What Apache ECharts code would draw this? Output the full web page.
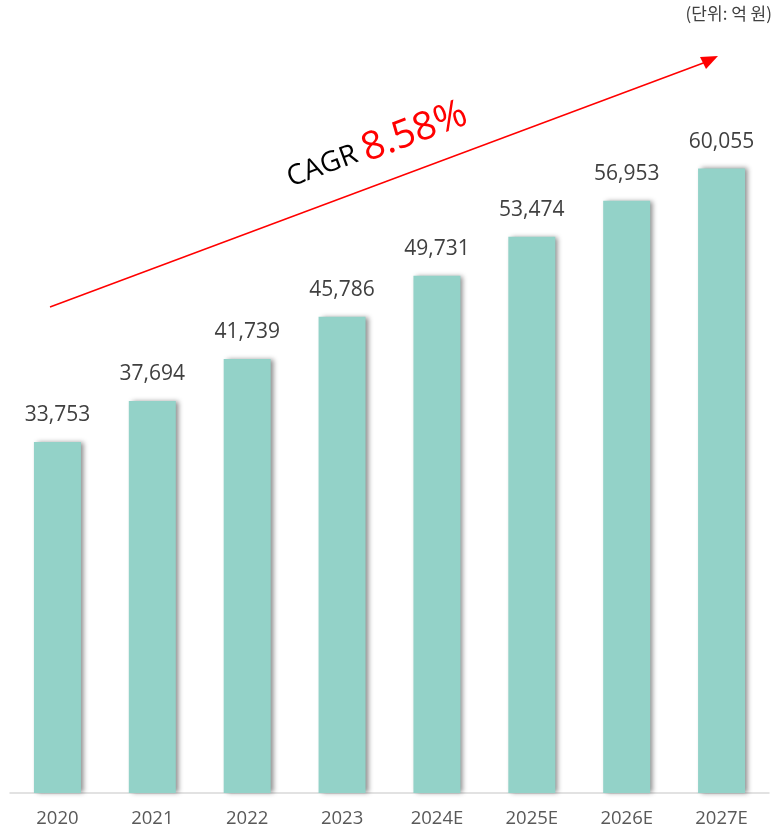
<!DOCTYPE html>
<html>
<head>
<meta charset="utf-8">
<script src="https://cdn.jsdelivr.net/npm/echarts@6/dist/echarts.min.js"></script>
<style>
  html, body { margin: 0; padding: 0; background: #fff; }
  #chart { width: 775px; height: 833px; }
</style>
</head>
<body>
<div id="chart"></div>
<script>
const years = ["2020", "2021", "2022", "2023", "2024E", "2025E", "2026E", "2027E"];
const marketSize = [33753, 37694, 41739, 45786, 49731, 53474, 56953, 60055];
const unitText = "(단위: 억 원)";
const cagrText = "8.58%";

const fontFamily = "'Open Sans', 'Noto Sans CJK KR', sans-serif";
const chart = echarts.init(document.getElementById("chart"));

const option = {
  backgroundColor: "#ffffff",
  animation: false,
  grid: { left: 10, right: 6, top: 65, bottom: 40, containLabel: false },
  xAxis: {
    type: "category",
    data: years,
    axisLine: { lineStyle: { color: "#d9d9d9", width: 1.5 } },
    axisTick: { show: false },
    axisLabel: { color: "#595959", fontSize: 18.5, margin: 16, fontFamily: fontFamily },
  },
  yAxis: {
    type: "value",
    min: 0,
    max: 70000,
    show: false,
    splitLine: { show: false },
  },
  series: [
    {
      type: "bar",
      data: marketSize,
      barWidth: 47,
      itemStyle: {
        color: "#93d2c8",
        shadowColor: "rgba(0,0,0,0.45)",
        shadowBlur: 5,
        shadowOffsetX: 3,
        shadowOffsetY: 0,
      },
      label: {
        show: true,
        position: "top",
        distance: 16,
        color: "#404040",
        fontSize: 21,
        fontFamily: fontFamily,
        formatter: (p) => p.value.toLocaleString("en-US"),
      },
    },
  ],
  graphic: [
    {
      type: "text",
      right: 3,
      top: 5,
      style: { text: unitText, fill: "#404040", font: "17px 'Noto Sans CJK KR', sans-serif" },
    },
    {
      type: "line",
      shape: { x1: 50, y1: 307, x2: 706, y2: 62 },
      style: { stroke: "#ff0000", lineWidth: 1.5 },
    },
    {
      type: "polygon",
      shape: { points: [[718, 56], [700, 57], [706, 69]] },
      style: { fill: "#ff0000" },
    },
    {
      type: "text",
      x: 377,
      y: 146,
      rotation: 0.358,
      style: {
        text: "{a|CAGR }{b|" + cagrText + "}",
        align: "center",
        verticalAlign: "middle",
        rich: {
          a: { fontSize: 28, fill: "#000000", fontFamily: fontFamily },
          b: { fontSize: 39, fill: "#ff0000", fontFamily: fontFamily },
        },
      },
    },
  ],
};

chart.setOption(option);
</script>
</body>
</html>
